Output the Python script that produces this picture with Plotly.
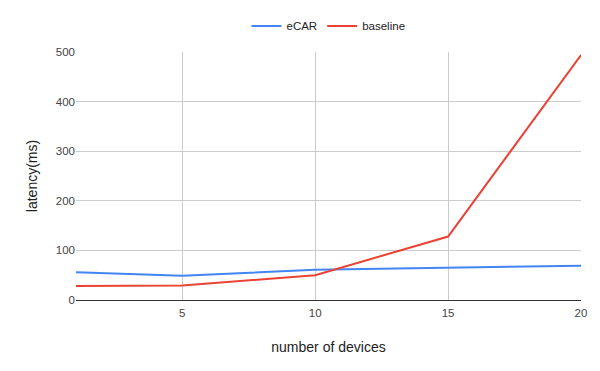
import plotly.graph_objects as go

# Data
devices = [1, 5, 10, 15, 20]
ecar = [56, 49, 61, 65, 69]
baseline = [28, 29, 50, 128, 494]
x_ticks = [5, 10, 15, 20]
y_ticks = [0, 100, 200, 300, 400, 500]

fig = go.Figure()
fig.add_trace(go.Scatter(x=devices, y=ecar, mode='lines', name='eCAR',
                         line=dict(color='#4285F4', width=2)))
fig.add_trace(go.Scatter(x=devices, y=baseline, mode='lines', name='baseline',
                         line=dict(color='#EA4335', width=2)))

fig.update_layout(
    width=600, height=371,
    margin=dict(l=76, r=19, t=52, b=71, autoexpand=False),
    paper_bgcolor='white', plot_bgcolor='white',
    font=dict(family='Liberation Sans', size=11.5, color='#222'),
    legend=dict(orientation='h', x=0.5, xanchor='center', y=1.105, yanchor='middle',
                itemwidth=30, font=dict(size=11.5, color='#222')),
)
fig.update_xaxes(range=[1, 20], tickvals=x_ticks, showgrid=True, gridcolor='#cccccc',
                 zeroline=False, showline=False, ticks='', ticklabelstandoff=4,
                 tickfont=dict(color='#444'),
                 title=dict(text='number of devices', standoff=24, font=dict(color='#222')))
fig.update_yaxes(range=[0, 500], tickvals=y_ticks, showgrid=True, gridcolor='#cccccc',
                 zeroline=True, zerolinecolor='#333333', zerolinewidth=1, showline=False,
                 ticks='', tickfont=dict(color='#444'),
                 title=dict(text='latency(ms)', standoff=14, font=dict(color='#222')))

fig.write_html("out.html", config={'displayModeBar': False},
               post_script="document.body.style.margin='0';")
